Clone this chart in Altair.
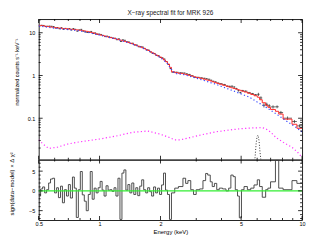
import altair as alt
import pandas as pd
import numpy as np

TITLE = "X\u2212ray spectral fit for MRK 926"

# ---- spectral bins (keV, lower edges) ----
E_LO = [0.500, 0.511, 0.523, 0.535, 0.547, 0.560, 0.572, 0.586, 0.599, 0.613,
        0.626, 0.641, 0.655, 0.670, 0.686, 0.701, 0.717, 0.734, 0.750, 0.767,
        0.785, 0.803, 0.821, 0.840, 0.859, 0.879, 0.899, 0.919, 0.940, 0.961,
        0.983, 1.006, 1.029, 1.052, 1.076, 1.101, 1.126, 1.151, 1.178, 1.204,
        1.232, 1.260, 1.289, 1.318, 1.348, 1.379, 1.410, 1.442, 1.475, 1.509,
        1.543, 1.578, 1.614, 1.651, 1.689, 1.727, 1.767, 1.807, 1.848, 1.890,
        1.933, 1.978, 2.023, 2.069, 2.116, 2.164, 2.214,
        2.264, 2.35, 2.45, 2.58, 2.66, 2.73, 2.82, 2.91, 3.00, 3.12,
        3.24, 3.34, 3.42, 3.52, 3.60, 3.69, 3.79, 3.90, 4.05, 4.21,
        4.34, 4.45, 4.57, 4.68, 4.80, 4.90, 5.02, 5.17, 5.37, 5.58,
        5.79, 6.01, 6.17, 6.36, 6.61, 6.78, 6.99, 7.39, 7.67, 8.06,
        8.92, 9.43]
E_MAX = 10.0

MODEL = [14.9, 14.7, 14.5, 14.3, 14.0, 13.8, 13.6, 13.4, 13.2, 13.0,
         12.9, 12.8, 12.6, 12.5, 12.4, 12.2, 12.1, 12.0, 11.8, 11.7,
         11.5, 11.4, 11.2, 11.0, 10.8, 10.5, 10.2, 10.0, 9.7, 9.4,
         9.1, 8.8, 8.6, 8.4, 8.1, 7.9, 7.7, 7.5, 7.3, 7.1,
         6.9, 6.7, 6.5, 6.3, 6.1, 5.9, 5.7, 5.5, 5.3, 5.05,
         4.85, 4.65, 4.45, 4.25, 4.05, 3.85, 3.6, 3.4, 3.2, 3.0,
         2.85, 2.7, 2.5, 2.3, 2.1, 1.85, 1.55,
         1.22, 1.16, 1.12, 1.08, 1.05, 1.01, 0.97, 0.93, 0.89, 0.86,
         0.82, 0.79, 0.77, 0.74, 0.71, 0.68, 0.655, 0.625, 0.59, 0.56,
         0.535, 0.515, 0.495, 0.48, 0.465, 0.45, 0.43, 0.41, 0.385, 0.36,
         0.335, 0.31, 0.27, 0.23, 0.2, 0.18, 0.16, 0.145, 0.125, 0.095,
         0.072, 0.058]

DATA = [14.48, 14.96, 14.86, 14.04, 14.2, 14.28, 14.19, 14.0, 12.96, 13.29,
        12.47, 13.15, 12.06, 12.68, 12.05, 12.59, 11.69, 12.56, 12.05, 10.94,
        11.66, 12.03, 10.92, 10.56, 10.2, 10.25, 10.76, 9.64, 9.9, 9.23,
        9.3, 9.14, 8.69, 8.16, 8.33, 7.99, 7.81, 7.44, 7.46, 6.9,
        7.21, 6.25, 6.84, 6.67, 6.17, 6.09, 5.6, 5.69, 5.17, 5.16,
        4.72, 4.78, 4.64, 4.31, 3.98, 3.93, 3.56, 3.30, 3.28, 2.95,
        2.91, 2.64, 2.58, 2.42, 2.12, 1.81, 1.45,
        1.194, 1.189, 1.155, 1.138, 1.093, 1.058, 0.986, 0.904, 0.904, 0.878,
        0.859, 0.84, 0.816, 0.774, 0.732, 0.708, 0.665, 0.641, 0.609, 0.56,
        0.555, 0.561, 0.537, 0.492, 0.441, 0.397, 0.441, 0.429, 0.395, 0.374,
        0.353, 0.362, 0.298, 0.201, 0.211, 0.195, 0.184, 0.185, 0.1355, 0.1,
        0.0836, 0.066]

ERR = [0.37, 0.37, 0.36, 0.36, 0.35, 0.35, 0.34, 0.34, 0.33, 0.33,
       0.32, 0.32, 0.32, 0.31, 0.31, 0.31, 0.30, 0.30, 0.30, 0.29,
       0.29, 0.29, 0.28, 0.28, 0.27, 0.26, 0.26, 0.25, 0.24, 0.24,
       0.23, 0.22, 0.22, 0.21, 0.20, 0.20, 0.19, 0.19, 0.18, 0.18,
       0.17, 0.17, 0.16, 0.16, 0.15, 0.15, 0.14, 0.14, 0.13, 0.13,
       0.12, 0.12, 0.11, 0.11, 0.10, 0.10, 0.09, 0.085, 0.08, 0.075,
       0.071, 0.068, 0.063, 0.058, 0.053, 0.046, 0.039,
       0.037, 0.035, 0.034, 0.032, 0.032, 0.030, 0.029, 0.028, 0.027, 0.026,
       0.025, 0.024, 0.023, 0.022, 0.021, 0.020, 0.020, 0.019, 0.027, 0.025,
       0.024, 0.023, 0.022, 0.022, 0.021, 0.020, 0.019, 0.018, 0.017, 0.016,
       0.015, 0.031, 0.027, 0.023, 0.020, 0.018, 0.016, 0.0145, 0.0125, 0.0095,
       0.0072, 0.0058]

RESID = [-1.3, 0.5, 1.0, -0.5, 0.3, 2.0, 3.0, 3.2, -0.5, 0.8,
         -1.7, 1.2, -3.0, 0.3, -1.3, 1.6, -1.8, 3.5, 0.7, -6.7,
         0.3, 4.9, -1.0, -2.6, -5.0, -0.9, 4.9, -2.1, 0.7, -0.5,
         0.8, 2.4, 0.2, -1.3, 1.3, 0.2, 0.3, -0.1, 0.8, -1.3,
         3.2, -7.2, 4.5, 5.3, 0.2, 1.6, -0.5, 2.0, -0.9, 0.8,
         -1.2, 1.2, 2.8, 0.3, -0.5, 0.8, -0.2, -1.3, 1.0, -0.5,
         0.7, -0.9, 1.5, 4.5, 0.2, -0.9, -7.2,
         -0.5, 0.7, 1.1, 3.2, 1.9, 2.6, 0.3, -0.9, 0.3, 0.5,
         2.6, 4.4, 4.0, 2.3, 1.1, 1.9, 0.3, 0.7, 0.5, 0.0,
         0.7, 4.0, 3.6, 0.3, -1.3, -6.8, 0.3, 1.1, 0.3, 0.7,
         1.5, 2.8, 1.1, -1.6, 0.3, 0.7, 2.3, 7.7, 0.7, 0.3,
         2.6, 1.9]

# ---- model components ----
PL_E = [0.5, 0.6, 0.7, 0.8, 0.9, 1.0, 1.2, 1.4, 1.6, 1.8, 2.0, 2.14, 2.26,
        2.35, 2.6, 3.1, 3.76, 4.5, 5.0, 5.5, 6.0, 6.6, 7.45, 8.4, 9.2, 10.0]
PL_V = [14.4, 12.8, 11.9, 11.1, 9.9, 8.8, 7.2, 5.8, 4.6, 3.5, 2.6, 2.0, 1.42,
        1.12, 1.05, 0.83, 0.62, 0.45, 0.37, 0.31, 0.24, 0.184, 0.126, 0.085, 0.064, 0.048]

REFL_E = [0.5, 0.53, 0.56, 0.62, 0.7, 0.8, 1.0, 1.2, 1.47, 1.73, 2.0, 2.22, 2.35,
          2.5, 2.79, 3.2, 3.76, 4.4, 5.04, 5.7, 6.36, 6.6, 7.0, 7.45, 8.2, 8.9, 9.5, 10.0]
REFL_V = [0.031, 0.024, 0.0196, 0.021, 0.025, 0.028, 0.0325, 0.038, 0.047, 0.050,
          0.042, 0.035, 0.031, 0.031, 0.035, 0.041, 0.048, 0.053, 0.057, 0.059,
          0.060, 0.057, 0.047, 0.035, 0.026, 0.021, 0.016, 0.012]

LINE_E = [5.80, 5.86, 5.93, 6.00, 6.06, 6.13, 6.20, 6.27]
LINE_V = [0.010, 0.012, 0.025, 0.038, 0.040, 0.030, 0.016, 0.010]

# ---- axis ticks ----
X_MAJOR = [0.5, 1, 2, 5, 10]
X_MINOR = [0.6, 0.7, 0.8, 0.9, 3, 4, 6, 7, 8, 9]
Y_MAJOR = [0.1, 1, 10]
Y_MINOR = [0.02, 0.03, 0.04, 0.05, 0.06, 0.07, 0.08, 0.09,
           0.2, 0.3, 0.4, 0.5, 0.6, 0.7, 0.8, 0.9,
           2, 3, 4, 5, 6, 7, 8, 9, 20]
R_MAJOR = [-5, 0, 5]
R_MINOR = [-7, -6, -4, -3, -2, -1, 1, 2, 3, 4, 6, 7]

W, H1, H2 = 266, 142, 61
FONT = "Liberation Sans"

bins = pd.DataFrame({"lo": E_LO, "hi": E_LO[1:] + [E_MAX], "d": DATA, "e": ERR})
bins["mid"] = np.sqrt(bins["lo"] * bins["hi"])
bins["dlo"] = bins["d"] - bins["e"]
bins["dhi"] = bins["d"] + bins["e"]
step = pd.DataFrame({"E": E_LO + [E_MAX], "m": MODEL + [MODEL[-1]], "r": RESID + [RESID[-1]]})
pl = pd.DataFrame({"E": PL_E, "v": PL_V})
refl = pd.DataFrame({"E": REFL_E, "v": REFL_V})
gline = pd.DataFrame({"E": LINE_E, "v": LINE_V})

xs = alt.Scale(type="log", domain=[0.5, 10], nice=False)
ys = alt.Scale(type="log", domain=[0.0107, 21], nice=False)
rs = alt.Scale(domain=[-7.35, 7.9], nice=False, zero=False)

y_axis = alt.Axis(values=Y_MAJOR, format="~g", ticks=False, domain=False, grid=False,
                  labelPadding=4, labelFontSize=5.5, labelFlush=False, labelColor="black",
                  title="normalized counts s\u207b\u00b9 keV\u207b\u00b9", titleFontSize=5.5,
                  titleFontWeight="normal", titleX=-22, titleY=53, titleAngle=270,
                  titleAlign="center", titleBaseline="middle", titleColor="black")
r_axis = alt.Axis(values=R_MAJOR, format="~g", ticks=False, domain=False, grid=False,
                  labelPadding=4, labelFontSize=5.5, labelFlush=False, labelColor="black",
                  title="sign(data\u2212model) \u00d7 \u0394 \u03c7\u00b2", titleFontSize=6,
                  titleFontWeight="normal", titleX=-27, titleY=24, titleAngle=270,
                  titleAlign="center", titleBaseline="middle", titleColor="black")
x_axis = alt.Axis(values=X_MAJOR, format="~g", ticks=False, domain=False, grid=False,
                  labelPadding=2, labelFontSize=5.5, labelFlush=False, labelColor="black",
                  title="Energy (keV)", titleFontSize=6, titlePadding=1,
                  titleFontWeight="normal", titleColor="black")


def XT(f):
    return alt.X(f, type="quantitative", scale=xs, axis=None)


def YT(f):
    return alt.Y(f, type="quantitative", scale=ys, axis=y_axis)


def XB(f):
    return alt.X(f, type="quantitative", scale=xs, axis=x_axis)


def YB(f):
    return alt.Y(f, type="quantitative", scale=rs, axis=r_axis)


def tick_layers(X, Y, xmaj, xmin, ymaj, ymin, h):
    out = []
    for vals, size in ((xmaj, 4), (xmin, 2)):
        d = pd.DataFrame({"t": vals})
        for yp in (size / 2, h - size / 2):
            out.append(alt.Chart(d).mark_tick(orient="vertical", size=size, thickness=0.8,
                                              color="black", opacity=1)
                       .encode(x=X("t"), y=alt.value(yp)))
    for vals, size in ((ymaj, 4), (ymin, 2)):
        d = pd.DataFrame({"t": vals})
        for xp in (size / 2, W - size / 2):
            out.append(alt.Chart(d).mark_tick(orient="horizontal", size=size, thickness=0.8,
                                              color="black", opacity=1)
                       .encode(y=Y("t"), x=alt.value(xp)))
    return out


ink = "#2a2a2a"
top_layers = [
    alt.Chart(bins).mark_rule(color=ink, strokeWidth=0.7).encode(x=XT("lo"), x2="hi:Q", y=YT("d")),
    alt.Chart(bins).mark_rule(color=ink, strokeWidth=0.7).encode(x=XT("mid"), y=YT("dlo"), y2="dhi:Q"),
    alt.Chart(step).mark_line(interpolate="step-after", color="#ff2a2a", strokeWidth=1, clip=True)
    .encode(x=XT("E"), y=YT("m")),
    alt.Chart(pl).mark_line(color="#3344ff", strokeWidth=1.2, strokeDash=[1.2, 2.4], clip=True)
    .encode(x=XT("E"), y=YT("v")),
    alt.Chart(refl).mark_line(color="#ff33ff", strokeWidth=1.2, strokeDash=[1.2, 2.4], clip=True)
    .encode(x=XT("E"), y=YT("v")),
    alt.Chart(gline).mark_line(color="#333333", strokeWidth=1, strokeDash=[1, 1.8], clip=True)
    .encode(x=XT("E"), y=YT("v")),
] + tick_layers(XT, YT, X_MAJOR, X_MINOR, Y_MAJOR, Y_MINOR, H1)

top = alt.layer(*top_layers).properties(
    width=W, height=H1,
    title=alt.TitleParams(TITLE, fontSize=6.5, fontWeight="normal", anchor="middle",
                          frame="group", offset=3, color="#222222", font=FONT),
)

bottom_layers = [
    alt.Chart(step).mark_line(interpolate="step-after", color="#3a3a3a", strokeWidth=0.9, clip=True)
    .encode(x=XB("E"), y=YB("r")),
    alt.Chart(pd.DataFrame({"z": [0]})).mark_rule(color="#33ee33", strokeWidth=1.4)
    .encode(y=YB("z")),
] + tick_layers(XB, YB, X_MAJOR, X_MINOR, R_MAJOR, R_MINOR, H2)

bottom = alt.layer(*bottom_layers).properties(width=W, height=H2)

chart = (
    alt.vconcat(top, bottom, spacing=0, bounds="flush")
    .properties(padding=0)
    .configure(font=FONT)
    .configure_view(stroke="#222222", strokeWidth=1)
)

chart.save("out.html", embed_options={"renderer": "svg", "actions": False})
